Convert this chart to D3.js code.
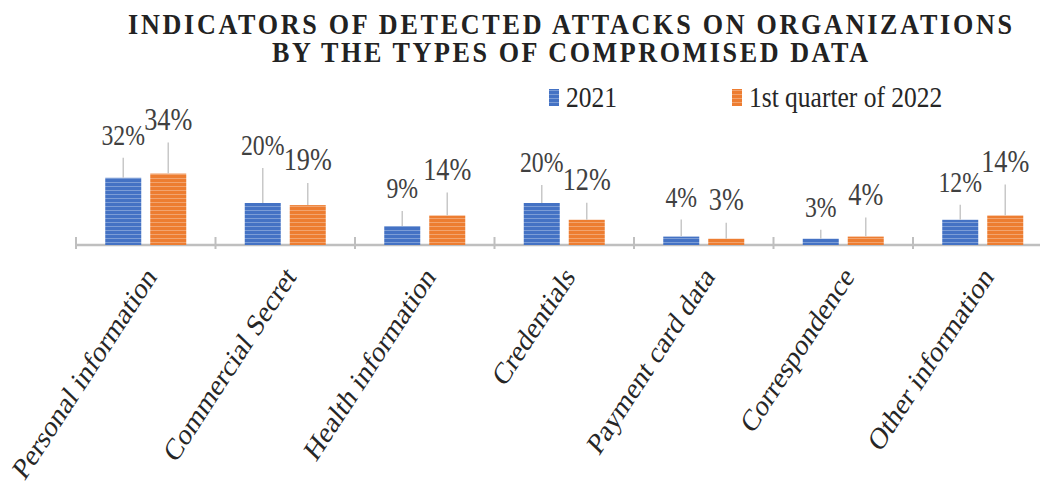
<!DOCTYPE html>
<html>
<head>
<meta charset="utf-8">
<script src="https://cdn.jsdelivr.net/npm/d3@7"></script>
<style>
  html, body { margin: 0; padding: 0; background: #fff; }
  svg { display: block; }
  text { font-family: "Liberation Serif", "Times New Roman", serif; }
</style>
</head>
<body>
<svg id="chart" width="1040" height="485"></svg>
<script>
// ---- data ----
const categories = ["Personal information", "Commercial Secret", "Health information", "Credentials", "Payment card data", "Correspondence", "Other information"];
const seriesNames = ["2021", "1st quarter of 2022"];
const values2021 = [32, 20, 9, 20, 4, 3, 12];
const values2022 = [34, 19, 14, 12, 3, 4, 14];
const titleLines = ["INDICATORS OF DETECTED ATTACKS ON ORGANIZATIONS", "BY THE TYPES OF COMPROMISED DATA"];
// label lift above the bar top (layout, px)
const labelLift2021 = [33, 48, 28, 31, 30, 22, 28];
const labelLift2022 = [44, 35, 36, 30, 29, 32, 44];

const colors = ["#4472C4", "#ED7D31"];
const svg = d3.select("#chart");
const SX = 0.82; // horizontal squeeze of the reference typography

// patterns (horizontal light stripes)
const defs = svg.append("defs");
colors.forEach((c, i) => {
  const p = defs.append("pattern").attr("id", "hatch" + i)
    .attr("patternUnits", "userSpaceOnUse").attr("width", 6).attr("height", 4);
  p.append("rect").attr("width", 6).attr("height", 4).attr("fill", c);
  p.append("rect").attr("y", 2).attr("width", 6).attr("height", 1).attr("fill", "#fff").attr("opacity", 0.3);
});

// scales
const x0 = d3.scaleBand().domain(categories).range([76, 76 + 7 * 139.5]).paddingInner(0).paddingOuter(0);
const x1 = d3.scaleBand().domain(seriesNames).range([0, x0.bandwidth()]).paddingInner(0.2).paddingOuter(0.65);
const y = d3.scaleLinear().domain([0, 40]).range([245, 161]);

// title
const TSX = 0.9;
titleLines.forEach((t, i) => {
  svg.append("text")
    .attr("transform", `translate(570,${34 + i * 28}) scale(${TSX},1)`)
    .attr("text-anchor", "middle")
    .attr("font-size", 29).attr("font-weight", "bold").attr("fill", "#222")
    .attr("textLength", (i === 0 ? 884 : 596) / TSX)
    .attr("lengthAdjust", "spacing")
    .text(t);
});

// legend
const legendX = [549, 732];
seriesNames.forEach((s, i) => {
  svg.append("rect").attr("x", legendX[i]).attr("y", 89).attr("width", 10).attr("height", 17)
    .attr("fill", `url(#hatch${i})`);
  svg.append("text")
    .attr("transform", `translate(${legendX[i] + 17},107) scale(${SX + 0.03},1)`)
    .attr("font-size", 30).attr("fill", "#262626").text(s);
});

// axis
const axisG = svg.append("g").attr("transform", "translate(0,245)");
const axis = d3.axisBottom(x0).tickSize(0).tickFormat("");
axisG.call(axis);
axisG.select(".domain").attr("stroke", "#bfbfbf").attr("stroke-width", 2.5)
  .attr("d", `M${x0.range()[0]},0H1040`);
// boundary ticks
const bounds = categories.map(c => x0(c));
svg.append("g").selectAll("line").data(bounds).join("line")
  .attr("x1", d => d).attr("x2", d => d).attr("y1", 237).attr("y2", 249)
  .attr("stroke", "#bfbfbf").attr("stroke-width", 2);

// bars
const seriesData = [values2021, values2022];
const lifts = [labelLift2021, labelLift2022];
const fontSizes = [29, 32];
seriesData.forEach((vals, si) => {
  const g = svg.append("g");
  const data = categories.map((c, i) => ({ c, v: vals[i], lift: lifts[si][i] }));
  const bx = d => x0(d.c) + x1(seriesNames[si]);
  const bw = x1.bandwidth();
  g.selectAll("rect").data(data).join("rect")
    .attr("x", bx).attr("width", bw)
    .attr("y", d => y(d.v)).attr("height", d => y(0) - y(d.v))
    .attr("fill", `url(#hatch${si})`);
  // leader lines
  g.selectAll("line").data(data.filter(d => d.lift - 13 > 4)).join("line")
    .attr("x1", d => bx(d) + bw / 2).attr("x2", d => bx(d) + bw / 2)
    .attr("y1", d => y(d.v) - d.lift + 13).attr("y2", d => y(d.v))
    .attr("stroke", "#c8c8c8").attr("stroke-width", 1.5);
  // labels
  g.selectAll("text").data(data).join("text")
    .attr("transform", d => `translate(${bx(d) + bw / 2},${y(d.v) - d.lift}) scale(${SX},1)`)
    .attr("text-anchor", "middle")
    .attr("font-size", fontSizes[si]).attr("fill", "#404040")
    .text(d => d.v + "%");
});

// category labels
svg.append("g").selectAll("text").data(categories).join("text")
  .attr("transform", d => `translate(${x0(d) + x0.bandwidth() / 2 - 2},264) scale(${SX},1) rotate(-51.5)`)
  .attr("text-anchor", "end").attr("dy", "0.7em")
  .attr("font-size", 31).attr("fill", "#262626")
  .text(d => d);
</script>
</body>
</html>
